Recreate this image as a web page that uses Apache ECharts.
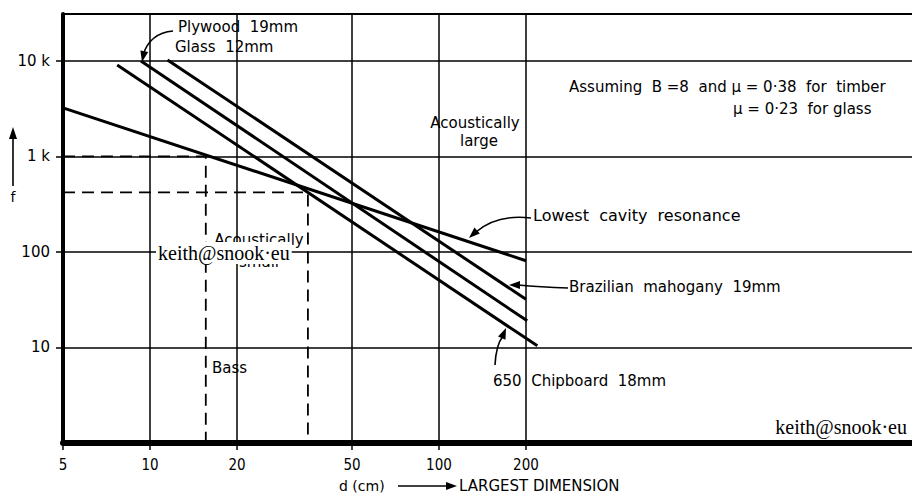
<!DOCTYPE html>
<html>
<head>
<meta charset="utf-8">
<script src="https://cdn.jsdelivr.net/npm/echarts@6/dist/echarts.min.js"></script>
<style>html,body{margin:0;padding:0;background:#fff}#c{width:912px;height:495px}</style>
</head>
<body>
<div id="c"></div>
<script>
// ---- data ----
const xTicks = [5, 10, 20, 50, 100, 200];
const xGrid = [10, 20, 50, 100, 200];
const yTicks = [10, 100, 1000, 10000];
const yTickLabels = ['10', '100', '1 k', '10 k'];
const cavity = [[5, 3230], [200, 81]];
const plywoodGlass = [[9.3, 10000], [202, 19]];
const brazilian = [[11.5, 10250], [200, 32]];
const chipboard = [[7.7, 9080], [219, 10.4]];
const bassLimit = [[5, 1000], [15.6, 1000], [15.6, 1]];
const smallLimit = [[5, 421], [35.2, 421], [35.2, 1]];
const xMin = 5, xMax = 4335, yMin = 1, yMax = 31000;

const FONT = 'DejaVu Sans';
const SERIF = 'Liberation Serif';
const chart = echarts.init(document.getElementById('c'), null, {renderer: 'svg'});

function arrowHead(tip, from, len, hw) {
  const dx = tip[0] - from[0], dy = tip[1] - from[1];
  const d = Math.hypot(dx, dy); const ux = dx / d, uy = dy / d;
  const bx = tip[0] - ux * len, by = tip[1] - uy * len;
  return {type: 'polygon', z: 101, shape: {points: [tip, [bx - uy * hw, by + ux * hw], [bx + uy * hw, by - ux * hw]]}, style: {fill: '#000'}};
}
function curve(x1, y1, cx, cy, x2, y2) {
  return {type: 'bezierCurve', z: 101, shape: {x1: x1, y1: y1, cpx1: cx, cpy1: cy, x2: x2, y2: y2}, style: {stroke: '#000', lineWidth: 1.6, fill: null}};
}
function txt(x, y, s, opt) {
  opt = opt || {};
  return {type: 'text', z: 102, x: x, y: y, style: Object.assign({text: s, fill: '#000', font: (opt.size || 14) + 'px "' + (opt.family || FONT) + '"', textAlign: opt.align || 'left', textVerticalAlign: 'middle'}, opt.style || {})};
}

const lineStyle = {color: '#000', width: 3};
function dataSeries(name, data, extra) {
  return Object.assign({name: name, type: 'line', data: data, showSymbol: false, symbol: 'none', silent: true, z: 5, lineStyle: lineStyle}, extra || {});
}

const gridLines = xGrid.map(v => ({xAxis: v})).concat(yTicks.map(v => ({yAxis: v}))).concat([{yAxis: yMax, lineStyle: {width: 2}}]);

chart.setOption({
  backgroundColor: '#fff',
  animation: false,
  grid: {left: 63, right: 0, top: 14, bottom: 52},
  xAxis: {
    type: 'log', logBase: 10, min: xMin, max: xMax,
    axisLine: {lineStyle: {color: '#000', width: 6}},
    axisTick: {customValues: xTicks, length: 7, lineStyle: {color: '#000', width: 1.5}},
    axisLabel: {customValues: xTicks, color: '#000', fontSize: 15, fontFamily: 'DejaVu Sans Condensed', margin: 14},
    splitLine: {show: false}, minorTick: {show: false}
  },
  yAxis: {
    type: 'log', logBase: 10, min: yMin, max: yMax,
    axisLine: {lineStyle: {color: '#000', width: 4}},
    axisTick: {customValues: yTicks, length: 7, lineStyle: {color: '#000', width: 1.5}},
    axisLabel: {customValues: yTicks, color: '#000', fontSize: 15, fontFamily: FONT, margin: 13,
      formatter: function (v) { const i = yTicks.indexOf(Math.round(v)); return i >= 0 ? yTickLabels[i] : ''; }},
    splitLine: {show: false}
  },
  series: [
    dataSeries('grid', [], {markLine: {silent: true, symbol: ['none', 'none'], label: {show: false}, lineStyle: {color: '#000', width: 1.5, type: 'solid'}, data: gridLines}, z: 1}),
    dataSeries('Lowest cavity resonance', cavity),
    dataSeries('Plywood 19mm / Glass 12mm', plywoodGlass),
    dataSeries('Brazilian mahogany 19mm', brazilian),
    dataSeries('650 Chipboard 18mm', chipboard),
    dataSeries('Bass', bassLimit, {lineStyle: {color: '#000', width: 1.8, type: [12, 7]}, z: 3}),
    dataSeries('Acoustically small', smallLimit, {lineStyle: {color: '#000', width: 1.8, type: [12, 7]}, z: 3})
  ],
  graphic: [
    txt(178, 27, 'Plywood  19mm', {size: 15}),
    txt(175, 47, 'Glass  12mm', {size: 15}),
    curve(173, 31, 150, 33, 143, 55),
    arrowHead([142, 62], [145, 48], 11, 4),
    txt(475, 123, 'Acoustically', {size: 15, align: 'center'}),
    txt(479, 141, 'large', {size: 15, align: 'center'}),
    txt(569, 87, 'Assuming  B =8  and \u03bc = 0\u00b738  for  timber', {size: 15}),
    txt(733, 109, '\u03bc = 0\u00b723  for glass', {size: 15}),
    txt(533, 215, 'Lowest  cavity  resonance', {size: 16}),
    curve(531, 218, 497, 214, 476, 232),
    arrowHead([469, 238], [481, 227], 11, 4),
    txt(569, 287, 'Brazilian  mahogany  19mm', {size: 15}),
    curve(568, 288, 540, 287, 518, 285),
    arrowHead([509, 285], [520, 285], 11, 4),
    txt(493, 381, '650  Chipboard  18mm', {size: 15}),
    curve(495, 365, 496, 345, 503, 336),
    arrowHead([506, 328], [501, 340], 11, 4),
    txt(212, 368, 'Bass', {size: 15}),
    txt(259, 240, 'Acoustically', {size: 15, align: 'center'}),
    txt(259, 262, 'small', {size: 15, align: 'center'}),
    txt(156, 253, 'keith@snook\u00b7eu', {size: 20, family: SERIF, style: {backgroundColor: '#fff', padding: [1, 2, 1, 2]}}),
    txt(907, 427, 'keith@snook\u00b7eu', {size: 20, family: SERIF, align: 'right', style: {backgroundColor: '#fff'}}),
    {type: 'line', z: 101, shape: {x1: 13, y1: 186, x2: 13, y2: 138}, style: {stroke: '#000', lineWidth: 1.6}},
    arrowHead([13, 127], [13, 140], 12, 4),
    txt(13, 197, 'f', {size: 14, align: 'center'}),
    txt(339, 486, 'd (cm)', {size: 14}),
    {type: 'line', z: 101, shape: {x1: 398, y1: 486, x2: 448, y2: 486}, style: {stroke: '#000', lineWidth: 1.6}},
    arrowHead([457, 486], [445, 486], 11, 4),
    txt(459, 486, 'LARGEST DIMENSION', {size: 15})
  ]
});
</script>
</body>
</html>
